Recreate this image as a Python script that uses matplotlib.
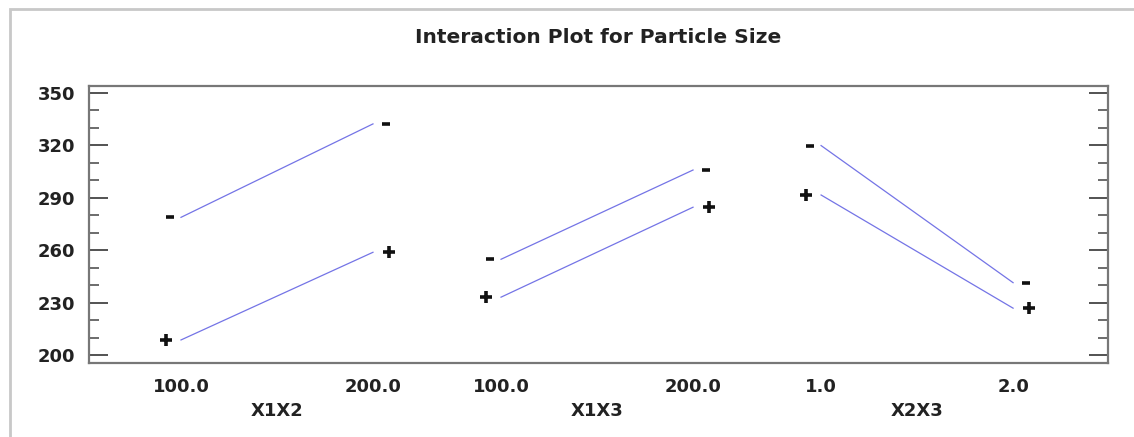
import matplotlib
matplotlib.use("Agg")
import matplotlib.pyplot as plt
from matplotlib.patches import Rectangle
from matplotlib.ticker import MultipleLocator
from matplotlib.transforms import offset_copy

# interaction groups and their two factor levels
groups = ["X1X2", "X1X3", "X2X3"]
level_labels = [["100.0", "200.0"], ["100.0", "200.0"], ["1.0", "2.0"]]

# mean particle size at low / high level, for the "-" and "+" traces
minus_vals = [[278.8, 332.3], [254.8, 305.9], [319.9, 241.4]]
plus_vals = [[208.6, 258.8], [233.1, 284.6], [291.6, 226.8]]

group_gap = 1.667
line_color = "#7474e6"
plt.rcParams["font.family"] = ["DejaVu Sans"]

fig = plt.figure(figsize=(11.34, 4.37), dpi=100)
ax = fig.add_axes([0.0785, 0.1693, 0.8985, 0.6339])

# marker styles: (marker, size, offset left px, offset right px)
sym_style = {"-": ("_", 6, -11, 13), "+": ("+", 9, -15, 16)}

xticks, xticklabels = [], []
for i, g in enumerate(groups):
    xs = [i * group_gap, i * group_gap + 1]
    for vals, sym in ((minus_vals[i], "-"), (plus_vals[i], "+")):
        mk, ms, dl, dr = sym_style[sym]
        ax.plot(xs, vals, color=line_color, lw=0.9)
        ax.plot(xs[:1], vals[:1], ls="none", marker=mk, ms=ms, mew=2.6, color="#111111",
                transform=offset_copy(ax.transData, fig, x=dl, units="dots"))
        ax.plot(xs[1:], vals[1:], ls="none", marker=mk, ms=ms, mew=2.6, color="#111111",
                transform=offset_copy(ax.transData, fig, x=dr, units="dots"))
    xticks += xs
    xticklabels += level_labels[i]
    ax.text(i * group_gap + 0.5, -0.173, g, transform=ax.get_xaxis_transform(),
            ha="center", va="center", fontsize=13, fontweight="bold", color="#222222")

ax.set_xlim(-0.479, 4.828)
ax.set_ylim(195.4, 354.0)
ax.set_xticks(xticks)
ax.set_xticklabels(xticklabels, fontsize=13, fontweight="bold", color="#222222")
ax.tick_params(axis="x", length=0, pad=11)

ax.yaxis.set_major_locator(MultipleLocator(30))
ax.yaxis.set_minor_locator(MultipleLocator(10))
ax.set_yticks([200, 230, 260, 290, 320, 350])
ax.tick_params(axis="y", which="major", direction="in", length=14, width=1.3,
               color="#444444", right=True, labelsize=13, pad=10)
ax.tick_params(axis="y", which="minor", direction="in", length=7, width=1.1,
               color="#444444", right=True)
for lbl in ax.get_yticklabels():
    lbl.set_fontweight("bold")
    lbl.set_color("#222222")
for sp in ax.spines.values():
    sp.set_color("#777777")
    sp.set_linewidth(1.6)

fig.text(0.5275, 0.914, "Interaction Plot for Particle Size", ha="center", va="center",
         fontsize=14.5, fontweight="bold", color="#222222")

# outer window frame of the screenshot
fig.patches.append(Rectangle((10 / 1134, -0.1), 1.2, 1.1 - 9 / 437,
                             transform=fig.transFigure, fill=False,
                             edgecolor="#c8c8c8", lw=2))

fig.savefig("out.png", dpi=100)
